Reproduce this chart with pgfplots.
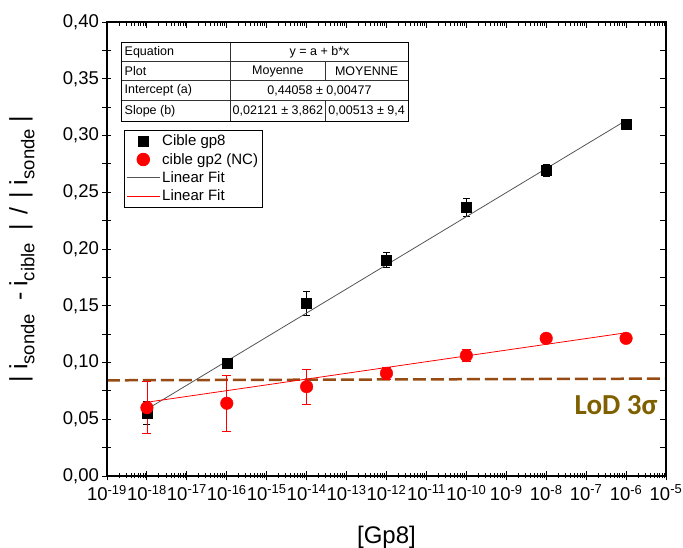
\documentclass[border=0pt]{standalone}
\usepackage{pgfplots}
\pgfplotsset{compat=1.18}
\usepackage{pgfplotstable}
\usepackage{fontspec}
\setmainfont{Liberation Sans}
\newfontfamily\calibri{Carlito}
\definecolor{lodline}{RGB}{150,75,20}
\definecolor{lodtext}{RGB}{127,96,0}
\definecolor{fitgray}{RGB}{85,85,85}
\newcommand{\sub}[1]{\raisebox{-0.28em}{\fontsize{18.5}{20}\selectfont #1}}

\pgfplotstableread{
x      y       e
1e-18  0.0553  0.0100
1e-16  0.0998  0.0020
1e-14  0.1522  0.0105
1e-12  0.1903  0.0067
1e-10  0.2368  0.0080
1e-8   0.2696  0.0053
1e-6   0.3102  0.0030
}\gpeight
\pgfplotstableread{
x      y       e
1e-18  0.0602  0.0230
1e-16  0.0641  0.0246
1e-14  0.0787  0.0154
1e-12  0.0905  0.0050
1e-10  0.1061  0.0055
1e-8   0.1213  0.0020
1e-6   0.1213  0.0020
}\gptwo

\begin{document}
\begin{tikzpicture}[x=1pt,y=1pt]
\useasboundingbox (-107,-72) rectangle (576,476);
\begin{axis}[
  at={(0,0)}, anchor=south west,
  width=559pt, height=454pt, scale only axis,
  xmode=log, xmin=1e-19, xmax=1e-5,
  ymin=0, ymax=0.40,
  xtick={1e-19,1e-18,1e-17,1e-16,1e-15,1e-14,1e-13,1e-12,1e-11,1e-10,1e-9,1e-8,1e-7,1e-6,1e-5},
  xticklabels={10\textsuperscript{-19},10\textsuperscript{-18},10\textsuperscript{-17},10\textsuperscript{-16},10\textsuperscript{-15},10\textsuperscript{-14},10\textsuperscript{-13},10\textsuperscript{-12},10\textsuperscript{-11},10\textsuperscript{-10},10\textsuperscript{-9},10\textsuperscript{-8},10\textsuperscript{-7},10\textsuperscript{-6},10\textsuperscript{-5}},
  ytick={0,0.025,0.05,0.075,0.1,0.125,0.15,0.175,0.2,0.225,0.25,0.275,0.3,0.325,0.35,0.375,0.4},
  yticklabels={{0,00},{},{0,05},{},{0,10},{},{0,15},{},{0,20},{},{0,25},{},{0,30},{},{0,35},{},{0,40}},
  xtick pos=bottom, ytick pos=left,
  tick align=center,
  major tick length=9pt, minor tick length=5pt,
  tick style={black, line width=0.9pt},
  axis line style={line width=1.1pt},
  tick label style={font=\fontsize{18.5}{20}\selectfont},
  xticklabel style={yshift=-1pt},
  every axis y label/.style={at={(axis description cs:-0.152,0.5)}, rotate=90, anchor=center},
  every axis x label/.style={at={(axis description cs:0.5,-0.134)}, anchor=center},
  ylabel={\fontsize{25}{27}\selectfont |\hspace{6pt}i\sub{sonde}\hspace{13pt}-\hspace{6pt}i\sub{cible}\hspace{13pt}|\hspace{9pt}/\hspace{9pt}|\hspace{7pt}i\sub{sonde}\hspace{7pt}|},
  xlabel={\fontsize{24}{26}\selectfont [Gp8]},
  legend style={at={(0.0304,0.762)}, anchor=north west, draw=black, line width=0.8pt,
    font=\fontsize{15}{17}\selectfont, inner xsep=2pt, inner ysep=2.5pt, row sep=2pt},
  legend cell align=left,
  legend image code/.code={\draw[mark repeat=2,mark phase=2,#1] plot coordinates {(0pt,0pt) (16.5pt,0pt) (33pt,0pt)};},
  clip=false,
]
\addplot[lodline, line width=2.5pt, dash pattern=on 13pt off 5pt, forget plot]
  coordinates {(1e-19,0.0843) (1e-5,0.0858)};
\addplot[only marks, mark=square*, mark size=5pt, black,
  error bars/.cd, y dir=both, y explicit,
  error bar style={black, line width=0.8pt},
  error mark options={rotate=90, black, mark size=3.5pt, line width=0.8pt}]
  table[x=x, y=y, y error=e] {\gpeight};
\addlegendentry{Cible gp8}
\addplot[only marks, mark=*, mark size=6.3pt, red,
  error bars/.cd, y dir=both, y explicit,
  error bar style={red, line width=0.8pt},
  error mark options={rotate=90, red, mark size=4.5pt, line width=0.8pt}]
  table[x=x, y=y, y error=e] {\gptwo};
\addlegendentry{cible gp2 (NC)}
\addplot[fitgray, line width=0.8pt, no marks] coordinates {(1e-18,0.0588) (1e-6,0.3133)};
\addlegendentry{Linear Fit}
\addplot[red, line width=0.8pt, no marks] coordinates {(1e-18,0.0650) (1e-6,0.1262)};
\addlegendentry{Linear Fit}
\node[anchor=east, text=lodtext, font=\calibri\bfseries\fontsize{29}{31}\selectfont, inner sep=0pt]
  at (rel axis cs:0.985,0.1565) {LoD 3σ};
\end{axis}
\begin{axis}[
  at={(0,0)}, anchor=south west,
  width=559pt, height=454pt, scale only axis,
  xmode=log, xmin=1e-19, xmax=1e-5,
  ymin=0, ymax=0.40,
  xtick={1e-19,1e-18,1e-17,1e-16,1e-15,1e-14,1e-13,1e-12,1e-11,1e-10,1e-9,1e-8,1e-7,1e-6,1e-5},
  ytick={0,0.025,0.05,0.075,0.1,0.125,0.15,0.175,0.2,0.225,0.25,0.275,0.3,0.325,0.35,0.375,0.4},
  xticklabels={}, yticklabels={},
  xtick pos=top, ytick pos=right,
  tick align=inside,
  major tick length=6pt, minor tick length=4pt,
  tick style={black, line width=0.9pt},
  axis line style={line width=1.1pt},
]
\end{axis}
% fit parameter table
\begin{scope}[font=\fontsize{12.5}{14}\selectfont]
\draw[line width=0.5pt, black!80] (14.7,414.3) -- (301.3,414.3)
  (14.7,395.3) -- (301.3,395.3)
  (14.7,375.3) -- (301.3,375.3)
  (123.7,355) -- (123.7,433.7)
  (218,414.3) -- (218,395.3)
  (218,375.3) -- (218,355);
\draw[line width=0.9pt] (14.7,355) rectangle (301.3,433.7);
\node[anchor=west, inner sep=0pt] at (17.5,424) {Equation};
\node[anchor=west, inner sep=0pt] at (17.5,404.8) {Plot};
\node[anchor=west, inner sep=0pt] at (17.5,385.3) {Intercept (a)};
\node[anchor=west, inner sep=0pt] at (17.5,365.2) {Slope (b)};
\node[inner sep=0pt] at (212.5,424) {y = a + b*x};
\node[inner sep=0pt] at (170.85,404.8) {Moyenne};
\node[inner sep=0pt] at (259.65,404.8) {MOYENNE};
\node[inner sep=0pt] at (212.5,385.3) {0,44058 ± 0,00477};
\node[inner sep=0pt] at (170.85,365.2) {0,02121 ± 3,862};
\node[inner sep=0pt] at (259.65,365.2) {0,00513 ± 9,4};
\end{scope}
\end{tikzpicture}
\end{document}
